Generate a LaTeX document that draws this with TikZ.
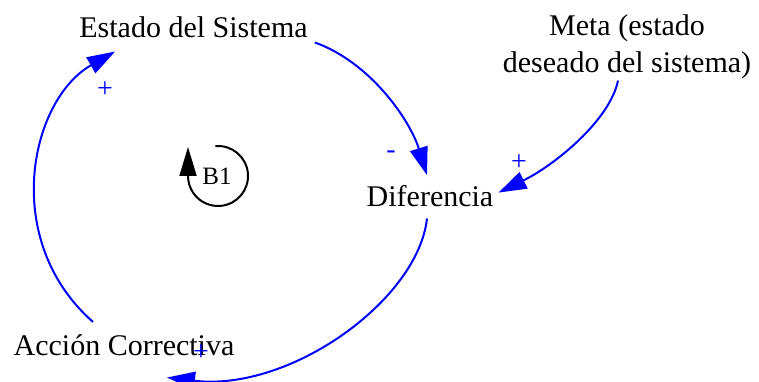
\documentclass[tikz,border=0pt]{standalone}
\usepackage{fontspec}
\setmainfont{Liberation Serif}
\usetikzlibrary{arrows.meta,calc}
\begin{document}
\begin{tikzpicture}[x=1pt,y=-1pt,
  lbl/.style={font=\fontsize{30}{37}\selectfont, inner sep=0pt, anchor=base},
  link/.style={draw=blue, line width=2pt, -{Triangle[length=28pt,width=18pt]}},
  pol/.style={text=blue, font=\fontsize{28}{30}\selectfont, inner sep=0pt},
  loopline/.style={draw=black, line width=2pt, -{Triangle[length=29pt,width=17pt]}}]
\useasboundingbox (0,0) rectangle (759,381);

% variables
\node[lbl] (est) at (193.5,37) {Estado del Sistema};
\node[lbl] (dif) at (430,206) {Diferencia};
\node[lbl] (acc) at (124,355) {Acción Correctiva};
\node[lbl, align=center] (meta) at (627,72) {Meta (estado\\deseado del sistema)};

% connectors
\draw[link] ($(est.south east)+(7,5)$) .. controls (370,62) and (410,120) .. ($(dif.north)+(-3,-9.5)$);
\draw[link] ($(meta.south)+(-9,2)$) .. controls (610,120) and (555,165) .. ($(dif.east)+(5,-3)$);
\draw[link] ($(dif.south)+(-3,12)$) .. controls (418,300) and (290,392) .. ($(acc.south)+(43,22)$);
\draw[link] ($(acc.north)+(-31,-12)$) .. controls (0,240) and (30,100) .. ($(est.south west)+(36,14)$);

% polarities
\node[pol] (p1) at (105,90) {+};
\node[pol] (p2) at (391,155) {-};
\node[pol] (p3) at (519,163) {+};
\node[pol] (p4) at (201,353) {+};

% loop identifier
\node[font=\fontsize{25}{25}\selectfont, inner sep=0pt] (b1) at (217,176) {B1};
\coordinate (lc) at ($(b1)+(1,0)$);
\draw[loopline] ($(lc)+(-2.6,-29.9)$) arc[start angle=-95, end angle=180, radius=30] -- ++(0,-29);
\end{tikzpicture}
\end{document}
